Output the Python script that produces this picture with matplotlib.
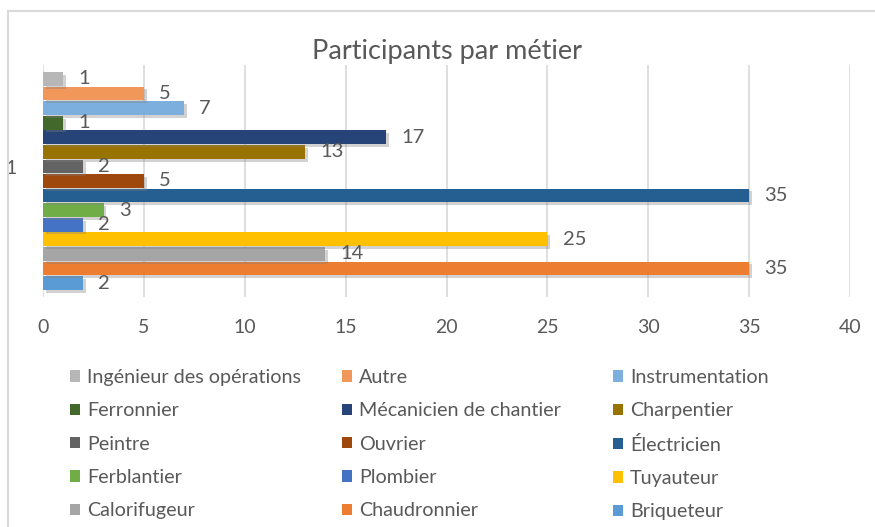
import matplotlib
matplotlib.use("Agg")
import matplotlib.pyplot as plt
import matplotlib.patheffects as pe
from matplotlib.lines import Line2D
from matplotlib.patches import Patch

plt.rcParams['font.family'] = ['Lato', 'DejaVu Sans']

# series from bottom to top, as Excel draws them
metiers = ["Briqueteur", "Chaudronnier", "Calorifugeur", "Tuyauteur", "Plombier",
           "Ferblantier", "Électricien", "Ouvrier", "Peintre", "Charpentier",
           "Mécanicien de chantier", "Ferronnier", "Instrumentation", "Autre",
           "Ingénieur des opérations"]
valeurs = [2, 35, 14, 25, 2, 3, 35, 5, 2, 13, 17, 1, 7, 5, 1]
couleurs = ["#5B9BD5", "#ED7D31", "#A5A5A5", "#FFC000", "#4472C4",
            "#70AD47", "#255E91", "#9E480E", "#636363", "#997300",
            "#264478", "#43682B", "#7CAFDD", "#F1975A", "#B7B7B7"]
categorie = "1"
xticks = [0, 5, 10, 15, 20, 25, 30, 35, 40]

gris = "#595959"

fig = plt.figure(figsize=(8.75, 5.27), dpi=100)
ax = fig.add_axes([43/875, 1-297/527, 807/875, 232/527])

for i, (m, v, c) in enumerate(zip(metiers, valeurs, couleurs)):
    ax.barh(i, v, height=0.95, color=c, label=m, zorder=3,
            path_effects=[pe.SimplePatchShadow(offset=(2, -2), shadow_rgbFace="#808080", alpha=0.35),
                          pe.Normal()])
    ax.text(v + 0.75, i, str(v), va="center", ha="left", fontsize=14.5, color=gris, zorder=4)

n = len(metiers)
ax.set_xlim(0, 40)
ax.set_ylim(-0.96, n - 1 + 0.96)
ax.set_xticks(xticks)
# Excel puts the category label a bit above the group centre
ax.set_yticks([(n - 1) / 2 + 0.96], [categorie])
ax.tick_params(axis="x", length=0, labelsize=14, labelcolor=gris, pad=16)
ax.tick_params(axis="y", length=0, labelsize=14, labelcolor=gris, pad=19)
ax.grid(axis="x", color="#D9D9D9", linewidth=1.2, zorder=0)
for s in ax.spines.values():
    s.set_visible(False)

fig.text(447/875, 1-51/527, "Participants par métier", ha="center", va="center",
         fontsize=19.5, color=gris)

# legend: 3 columns, row-major from the top series
ordre = list(range(n))[::-1]
xcols = [70/875, 342/875, 613/875]
for c in range(3):
    idx = [ordre[r*3 + c] for r in range(5)]
    poignees = [Patch(facecolor=couleurs[k], edgecolor="none") for k in idx]
    fig.legend(poignees, [metiers[k] for k in idx],
               loc="upper left", bbox_to_anchor=(xcols[c], 1-369/527),
               frameon=False, fontsize=14.2, labelcolor=gris,
               handlelength=0.5, handleheight=0.5, handletextpad=0.35,
               labelspacing=0.83, borderpad=0, borderaxespad=0)

# chart border
fig.add_artist(Line2D([8/875, 1], [1-11/527, 1-11/527], color="#D9D9D9", linewidth=1.5))
fig.add_artist(Line2D([8/875, 8/875], [0, 1-11/527], color="#D9D9D9", linewidth=1.5))

fig.savefig("out.png", dpi=100)
